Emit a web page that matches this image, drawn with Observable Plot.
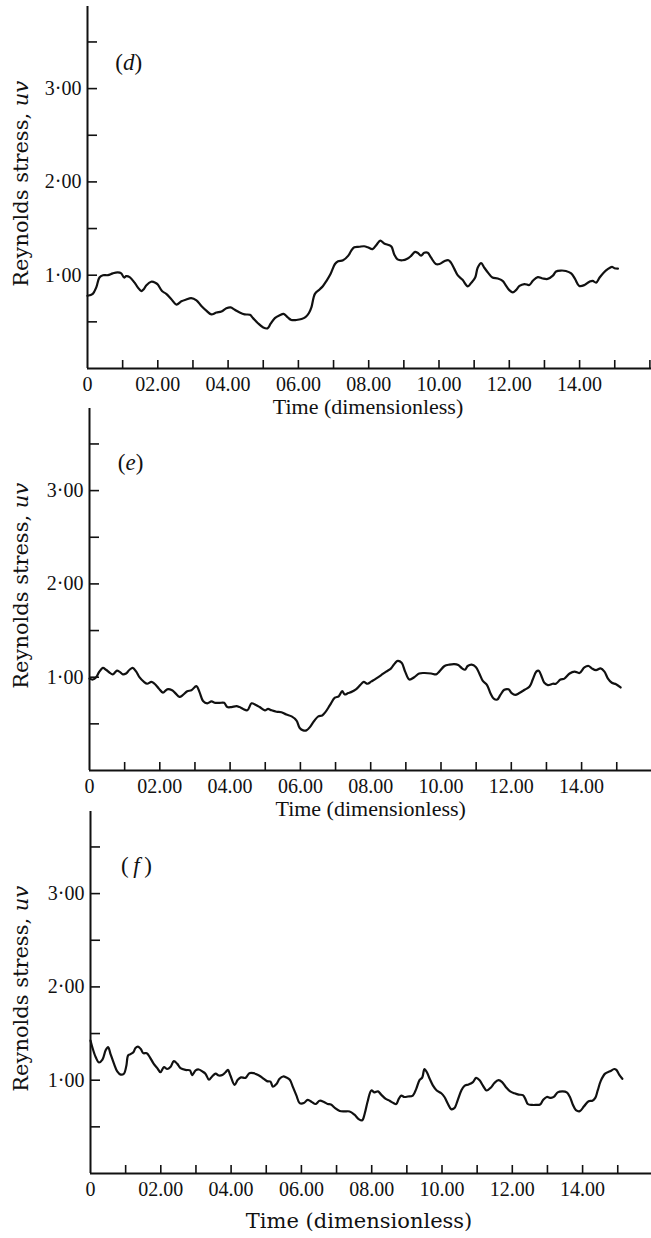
<!DOCTYPE html>
<html>
<head>
<meta charset="utf-8">
<script src="https://cdn.jsdelivr.net/npm/d3@7"></script>
<script src="https://cdn.jsdelivr.net/npm/@observablehq/plot@0.6"></script>
<style>
  body { margin: 0; background: #fff; }
  #chart { position: relative; width: 651px; height: 1238px; overflow: hidden; background: #fff; }
  #chart svg { position: absolute; left: 0; }
</style>
</head>
<body>
<div id="chart"></div>
<script>
// ---- data: [time, Reynolds stress uv] ----
const panelD = [[0,0.78],[0.15,0.80],[0.25,0.87],[0.34,0.975],[0.44,1.00],[0.58,1.00],[0.72,1.02],[0.86,1.03],[0.96,1.02],[1.04,0.975],[1.10,0.99],[1.20,0.98],[1.34,0.92],[1.43,0.87],[1.53,0.83],[1.60,0.85],[1.67,0.89],[1.81,0.93],[1.93,0.92],[2.00,0.90],[2.12,0.83],[2.24,0.80],[2.38,0.745],[2.53,0.685],[2.67,0.72],[2.81,0.74],[2.95,0.755],[3.10,0.73],[3.24,0.67],[3.38,0.62],[3.52,0.58],[3.67,0.60],[3.81,0.61],[3.95,0.645],[4.07,0.655],[4.19,0.63],[4.33,0.60],[4.47,0.58],[4.62,0.575],[4.71,0.54],[4.85,0.485],[5.00,0.44],[5.12,0.43],[5.21,0.48],[5.33,0.54],[5.47,0.57],[5.58,0.585],[5.69,0.55],[5.80,0.52],[5.94,0.52],[6.09,0.53],[6.20,0.55],[6.30,0.595],[6.37,0.655],[6.47,0.80],[6.61,0.85],[6.70,0.885],[6.80,0.94],[6.91,1.01],[7.04,1.12],[7.13,1.15],[7.27,1.16],[7.42,1.21],[7.50,1.26],[7.59,1.30],[7.73,1.305],[7.87,1.31],[7.97,1.30],[8.11,1.28],[8.23,1.33],[8.33,1.37],[8.44,1.34],[8.59,1.32],[8.65,1.305],[8.73,1.22],[8.82,1.17],[8.96,1.16],[9.11,1.18],[9.20,1.205],[9.32,1.25],[9.39,1.24],[9.49,1.21],[9.58,1.24],[9.68,1.24],[9.77,1.19],[9.91,1.12],[10.01,1.12],[10.15,1.15],[10.27,1.16],[10.34,1.135],[10.44,1.065],[10.53,1.00],[10.67,0.95],[10.82,0.88],[10.91,0.915],[11.03,0.975],[11.10,1.08],[11.20,1.13],[11.29,1.08],[11.41,1.02],[11.52,0.975],[11.67,0.965],[11.81,0.94],[11.91,0.885],[12.00,0.84],[12.10,0.815],[12.19,0.84],[12.29,0.885],[12.43,0.905],[12.57,0.895],[12.67,0.94],[12.81,0.98],[12.95,0.965],[13.09,0.96],[13.24,0.995],[13.33,1.04],[13.47,1.05],[13.61,1.045],[13.76,1.02],[13.87,0.96],[13.99,0.885],[14.14,0.895],[14.28,0.93],[14.37,0.94],[14.47,0.92],[14.57,0.975],[14.69,1.03],[14.80,1.065],[14.92,1.09],[14.99,1.075],[15.09,1.07]];

const panelE = [[0,0.985],[0.095,0.975],[0.19,1.0],[0.28,1.06],[0.38,1.10],[0.47,1.08],[0.57,1.05],[0.66,1.03],[0.78,1.07],[0.85,1.06],[0.95,1.03],[1.04,1.04],[1.14,1.08],[1.23,1.10],[1.33,1.06],[1.42,1.0],[1.55,0.95],[1.64,0.93],[1.76,0.95],[1.85,0.93],[1.97,0.88],[2.09,0.835],[2.21,0.87],[2.35,0.86],[2.44,0.83],[2.56,0.79],[2.66,0.81],[2.78,0.85],[2.90,0.86],[3.04,0.905],[3.13,0.84],[3.23,0.745],[3.35,0.72],[3.47,0.74],[3.58,0.725],[3.70,0.725],[3.83,0.725],[3.92,0.68],[4.04,0.68],[4.18,0.69],[4.27,0.68],[4.37,0.66],[4.49,0.645],[4.61,0.72],[4.72,0.705],[4.84,0.68],[4.99,0.645],[5.08,0.66],[5.18,0.645],[5.32,0.63],[5.46,0.625],[5.60,0.60],[5.75,0.58],[5.89,0.535],[5.98,0.455],[6.08,0.43],[6.17,0.43],[6.27,0.465],[6.39,0.53],[6.51,0.58],[6.62,0.59],[6.71,0.625],[6.84,0.70],[6.98,0.78],[7.09,0.795],[7.19,0.85],[7.26,0.815],[7.36,0.83],[7.44,0.84],[7.58,0.87],[7.70,0.915],[7.80,0.95],[7.91,0.93],[8.02,0.955],[8.15,0.985],[8.29,1.02],[8.44,1.06],[8.58,1.095],[8.69,1.15],[8.77,1.175],[8.88,1.155],[8.98,1.06],[9.10,0.975],[9.24,1.0],[9.38,1.04],[9.52,1.045],[9.72,1.04],[9.86,1.03],[9.95,1.06],[10.10,1.12],[10.24,1.135],[10.38,1.14],[10.49,1.13],[10.60,1.095],[10.68,1.08],[10.76,1.12],[10.87,1.135],[10.99,1.11],[11.09,1.04],[11.19,0.96],[11.31,0.915],[11.41,0.825],[11.50,0.77],[11.60,0.76],[11.69,0.81],[11.80,0.865],[11.92,0.87],[12.01,0.83],[12.11,0.81],[12.23,0.83],[12.38,0.865],[12.52,0.90],[12.61,0.975],[12.71,1.06],[12.78,1.07],[12.87,1.0],[12.94,0.94],[13.04,0.915],[13.18,0.93],[13.27,0.93],[13.40,0.975],[13.51,0.985],[13.66,1.04],[13.80,1.06],[13.94,1.045],[14.08,1.105],[14.20,1.12],[14.29,1.095],[14.41,1.075],[14.54,1.095],[14.65,1.06],[14.75,0.985],[14.86,0.94],[14.98,0.925],[15.11,0.89]];

const panelF = [[0,1.425],[0.05,1.355],[0.15,1.245],[0.24,1.19],[0.34,1.22],[0.43,1.32],[0.50,1.355],[0.57,1.28],[0.67,1.175],[0.76,1.095],[0.86,1.06],[0.95,1.07],[1.02,1.155],[1.07,1.265],[1.14,1.28],[1.22,1.30],[1.28,1.345],[1.35,1.36],[1.43,1.335],[1.50,1.29],[1.60,1.29],[1.69,1.245],[1.80,1.175],[1.90,1.13],[1.99,1.085],[2.09,1.14],[2.18,1.12],[2.28,1.145],[2.37,1.205],[2.47,1.175],[2.56,1.13],[2.70,1.11],[2.83,1.105],[2.89,1.055],[2.99,1.105],[3.08,1.115],[3.18,1.095],[3.27,1.07],[3.37,1.005],[3.46,1.04],[3.56,1.07],[3.65,1.05],[3.75,1.055],[3.84,1.085],[3.91,1.11],[3.98,1.05],[4.10,0.95],[4.19,1.005],[4.28,1.03],[4.41,1.025],[4.52,1.075],[4.64,1.075],[4.74,1.06],[4.84,1.04],[4.93,1.015],[5.02,0.99],[5.12,0.985],[5.19,0.93],[5.29,0.96],[5.38,1.015],[5.48,1.04],[5.57,1.03],[5.67,1.005],[5.76,0.925],[5.86,0.835],[5.95,0.755],[6.07,0.755],[6.18,0.79],[6.30,0.765],[6.40,0.745],[6.52,0.78],[6.63,0.77],[6.75,0.745],[6.84,0.74],[6.96,0.70],[7.09,0.67],[7.22,0.665],[7.37,0.665],[7.51,0.63],[7.64,0.58],[7.73,0.57],[7.80,0.64],[7.89,0.78],[7.99,0.89],[8.08,0.87],[8.18,0.88],[8.27,0.845],[8.40,0.80],[8.51,0.78],[8.62,0.755],[8.70,0.745],[8.77,0.80],[8.84,0.835],[8.93,0.82],[9.03,0.825],[9.17,0.835],[9.27,0.91],[9.36,1.0],[9.44,1.03],[9.50,1.12],[9.57,1.085],[9.65,1.015],[9.74,0.945],[9.85,0.89],[9.98,0.86],[10.07,0.82],[10.17,0.745],[10.26,0.69],[10.35,0.70],[10.45,0.79],[10.55,0.89],[10.64,0.94],[10.76,0.955],[10.88,0.98],[10.97,1.025],[11.07,1.0],[11.16,0.945],[11.27,0.89],[11.40,0.925],[11.49,0.97],[11.61,1.0],[11.71,0.98],[11.82,0.925],[11.94,0.88],[12.06,0.86],[12.18,0.845],[12.30,0.84],[12.37,0.80],[12.44,0.745],[12.56,0.735],[12.67,0.735],[12.79,0.74],[12.88,0.79],[12.98,0.82],[13.10,0.81],[13.19,0.825],[13.29,0.87],[13.43,0.88],[13.55,0.87],[13.64,0.82],[13.72,0.74],[13.81,0.68],[13.92,0.668],[14.04,0.72],[14.17,0.775],[14.28,0.78],[14.36,0.81],[14.43,0.89],[14.52,0.995],[14.64,1.07],[14.78,1.095],[14.90,1.12],[14.96,1.11],[15.04,1.06],[15.13,1.015]];

// ---- ticks and labels ----
const xMinorTicks = d3.range(1, 17);               // every unit
const xTickValues = [0, 2, 4, 6, 8, 10, 12, 14];   // labelled
const yMinorTicks = [0.5, 1, 1.5, 2, 2.5, 3, 3.5];
const yTickValues = [1, 2, 3];
const panelTags = ["d", "e", "f"];
const xTitle = "Time (dimensionless)";
const yTitle = "Reynolds stress, uv";

const fmtX = d => d === 0 ? "0" : d3.format("05.2f")(d);
const fmtY = d => `${d}·00`;

// ---- layout per panel ----
const panels = [
  {data: panelD, tag: panelTags[0], top: 0,   ml: 87, tagX: 1.17, tagY: 3.28, titleX: 7.98, titleDy: 45, tickPad: 8, titleFont: "Liberation Serif", titleSize: 22},
  {data: panelE, tag: panelTags[1], top: 402, ml: 89, tagX: 1.17, tagY: 3.30, titleX: 8.0,  titleDy: 45, tickPad: 8, titleFont: "Liberation Serif", titleSize: 22},
  {data: panelF, tag: panelTags[2], top: 805, ml: 90, tagX: 1.31, tagY: 3.30, titleX: 7.64, titleDy: 54, tickPad: 8, titleFont: "DejaVu Serif", titleSize: 21}
];

function tagText(t) { return t === "f" ? "(\u2009f\u2009)" : `(${t})`; }

function makePanel(p) {
  const mt = 6, innerH = 362, mb = 70;
  const svg = Plot.plot({
    width: 651,
    height: mt + innerH + mb,
    marginTop: mt, marginBottom: mb, marginLeft: p.ml, marginRight: 0,
    style: {background: "transparent", overflow: "visible", fontFamily: "'Liberation Serif', 'Times New Roman', serif", color: "#111"},
    x: {domain: [0, (651 - p.ml) / 35.15], label: null},
    y: {domain: [0, 3.88], label: null},
    marks: [
      Plot.ruleX([0], {stroke: "#111", strokeWidth: 2}),
      Plot.ruleY([0], {stroke: "#111", strokeWidth: 2}),
      Plot.axisX({ticks: xMinorTicks, tickSize: -8, tickFormat: () => "", strokeWidth: 1.6, label: null}),
      Plot.axisX({ticks: xTickValues, tickSize: 0, tickPadding: p.tickPad, tickFormat: fmtX, fontSize: 20, label: null}),
      Plot.axisY({ticks: yMinorTicks, tickSize: -10, tickFormat: () => "", strokeWidth: 1.6, label: null}),
      Plot.axisY({ticks: yTickValues, tickSize: 0, tickPadding: 6, tickFormat: fmtY, fontSize: 20, label: null}),
      Plot.line(p.data, {x: d => d[0], y: d => d[1], stroke: "#111", strokeWidth: 2.2, curve: "catmull-rom"}),
      Plot.text([{x: p.tagX, y: p.tagY, t: tagText(p.tag)}], {x: "x", y: "y", text: "t", fontSize: 23, fill: "#111"}),
      Plot.text([{y: 1.98, t: yTitle}], {frameAnchor: "left", y: "y", text: "t", textAnchor: "middle", lineAnchor: "middle", dx: 21 - p.ml, rotate: -90, fontSize: 21, fontFamily: "DejaVu Serif", fill: "#111"}),
      Plot.text([{x: p.titleX, t: xTitle}], {frameAnchor: "bottom", x: "x", text: "t", textAnchor: "middle", dy: p.titleDy, fontSize: p.titleSize, fontFamily: p.titleFont, fill: "#111"})
    ]
  });
  svg.style.top = p.top + "px";
  // italic letters (math variables) inside the labels
  svg.querySelectorAll("text").forEach(el => {
    const s = el.textContent;
    if (s === yTitle) {
      el.textContent = "Reynolds stress, ";
      const ts = document.createElementNS("http://www.w3.org/2000/svg", "tspan");
      ts.setAttribute("font-style", "italic");
      ts.textContent = "uv";
      el.appendChild(ts);
    } else if (s === tagText(p.tag)) {
      const parts = s.split(p.tag);
      el.textContent = parts[0];
      const ts = document.createElementNS("http://www.w3.org/2000/svg", "tspan");
      ts.setAttribute("font-style", "italic");
      ts.textContent = p.tag;
      el.appendChild(ts);
      el.appendChild(document.createTextNode(parts[1]));
    }
  });
  return svg;
}

const chart = document.getElementById("chart");
panels.forEach(p => chart.appendChild(makePanel(p)));
</script>
</body>
</html>
